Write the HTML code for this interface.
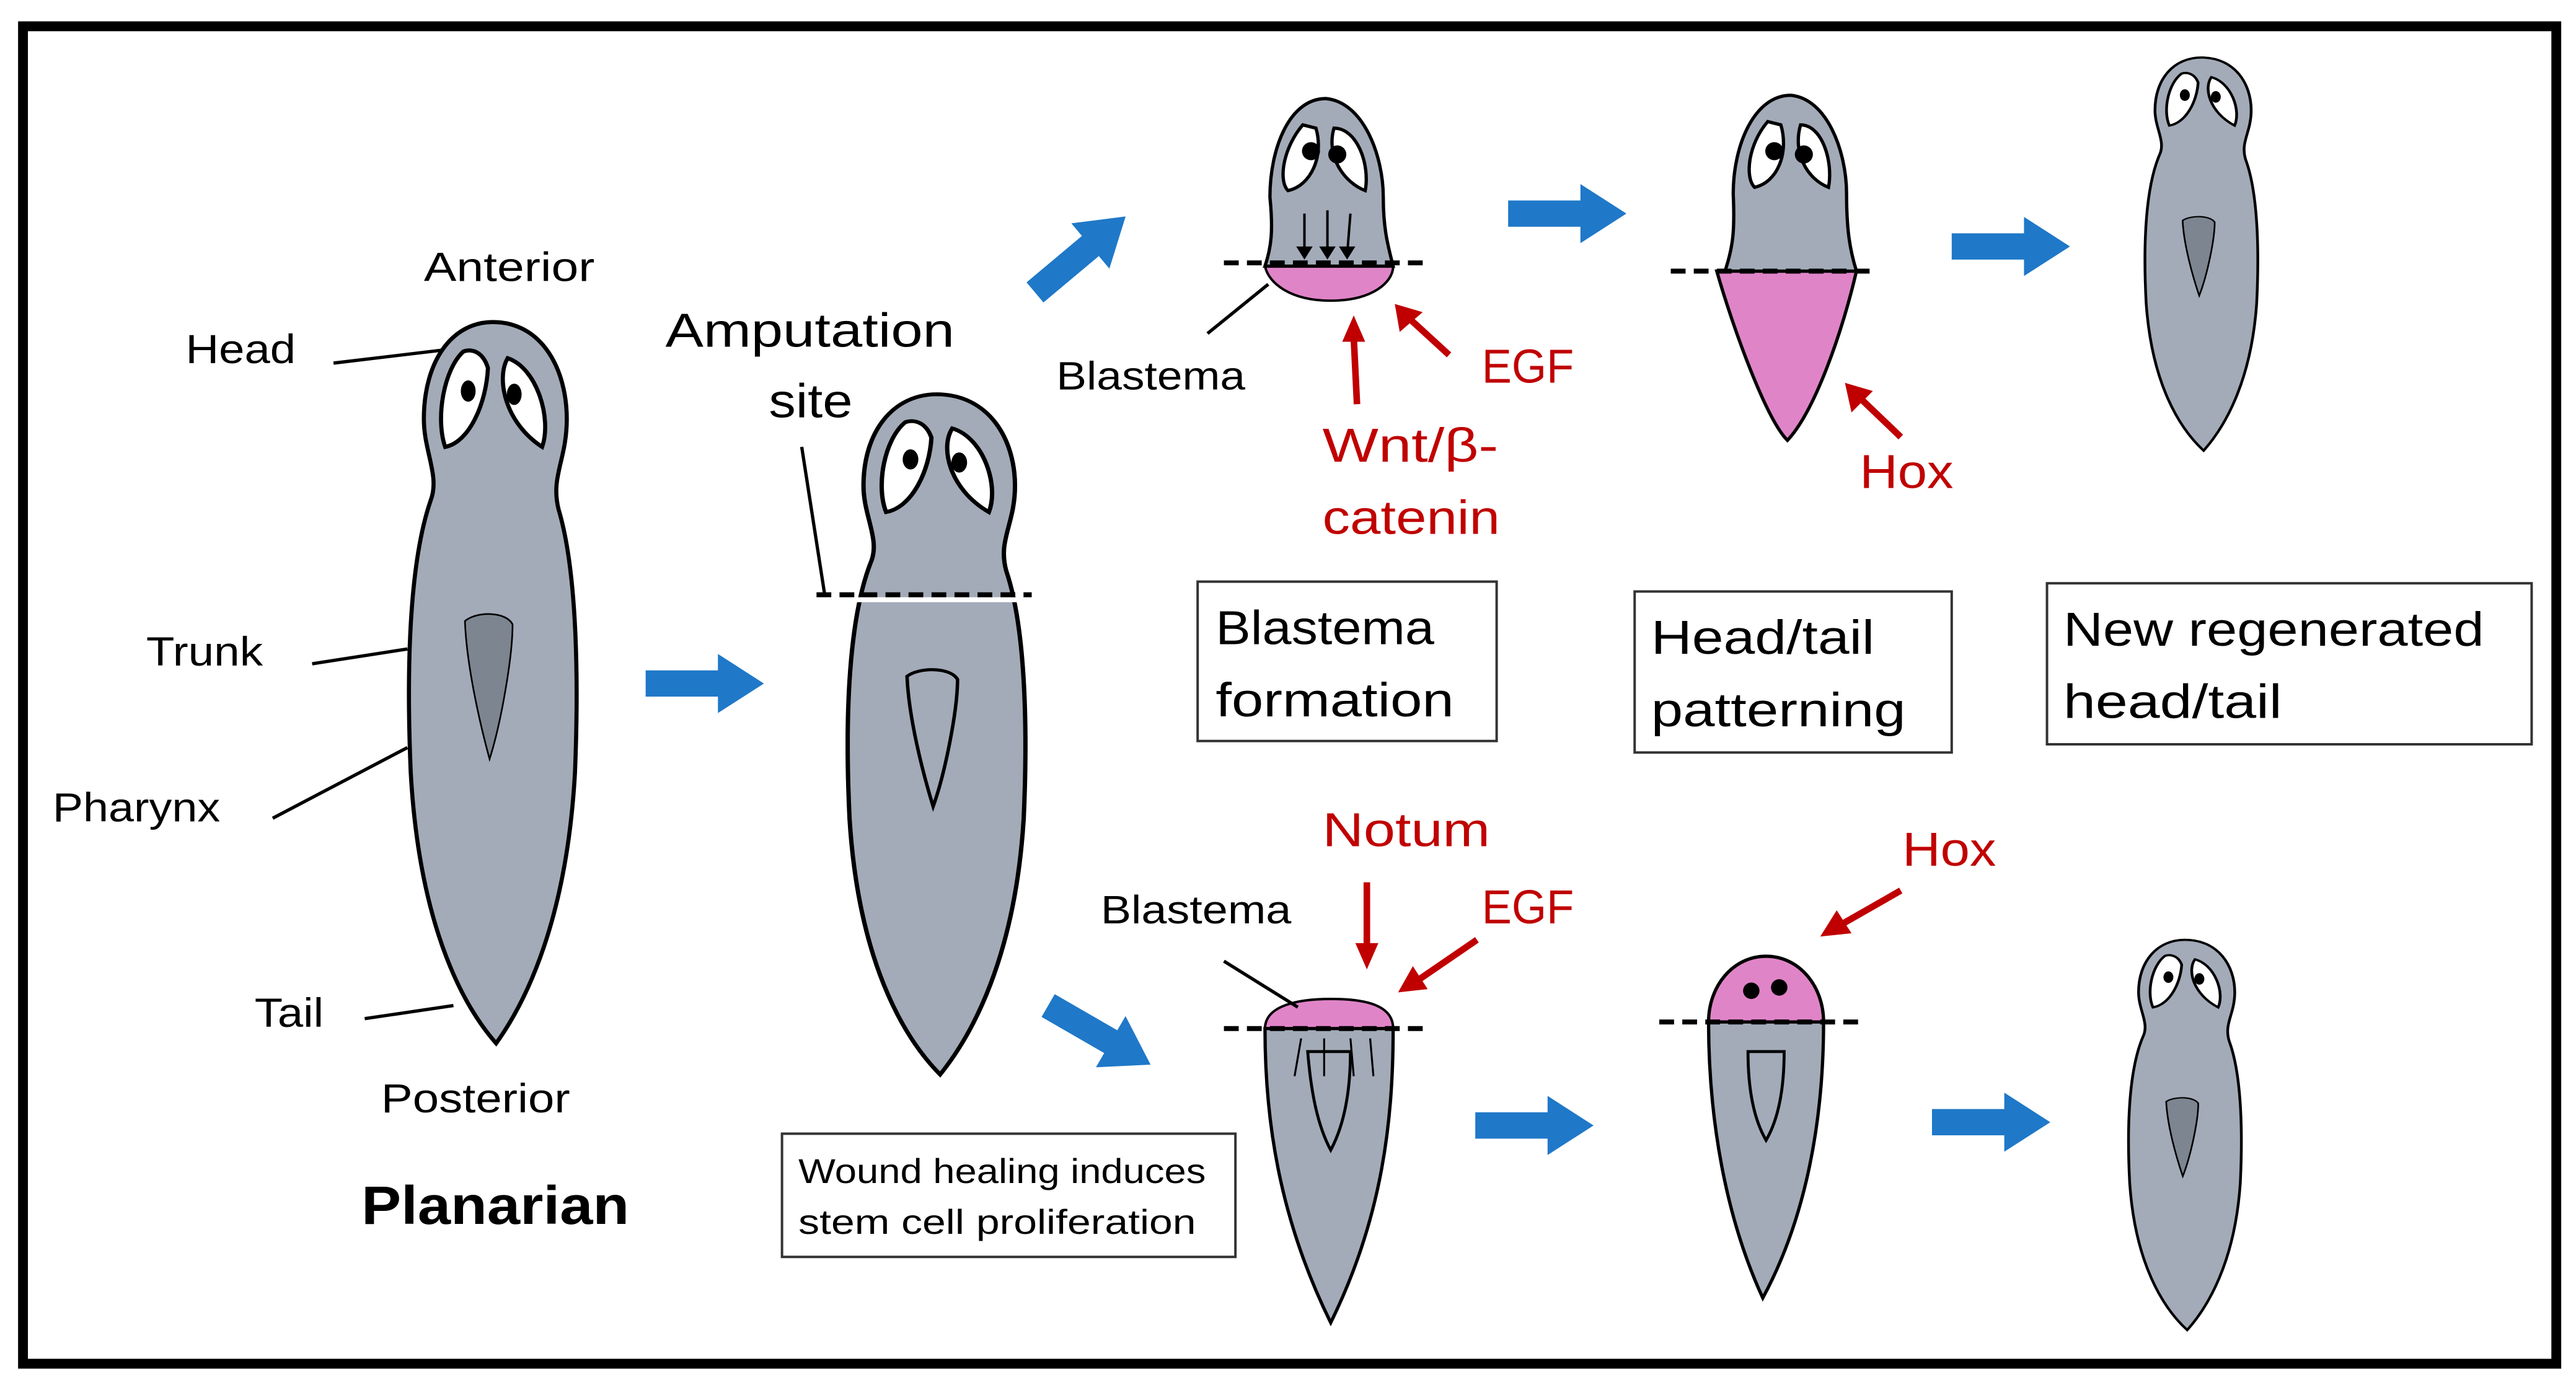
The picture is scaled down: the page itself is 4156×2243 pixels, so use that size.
<!DOCTYPE html>
<html><head><meta charset="utf-8"><style>
html,body{margin:0;padding:0;background:#fff}
svg{display:block}
text{font-family:"Liberation Sans",sans-serif}
</style></head><body>
<svg width="4156" height="2243" viewBox="0 0 1568 846" preserveAspectRatio="none" xmlns="http://www.w3.org/2000/svg">
<defs>
<g id="worm">
<path d="M300,196 C330,196 345,225 345,255 C345,280 335,290 340,310 C352,350 352,420 350,470 C345,560 320,610 302,635 C280,610 255,560 250,470 C247,400 250,340 262,305 C268,290 258,275 258,255 C258,220 275,196 300,196Z" fill="#a3abb9" stroke="#000" stroke-width="2.5"/>
<path d="M282,214 C270,225 265,255 271,272 C286,269 296,245 297,224 C294,214 287,212 282,214Z" fill="#fff" stroke="#000" stroke-width="2.5"/>
<path d="M309,218 C302,230 307,257 330,272 C336,255 327,224 309,218Z" fill="#fff" stroke="#000" stroke-width="2.5"/>
<ellipse cx="285" cy="238" rx="4.5" ry="6.5"/><ellipse cx="313" cy="240" rx="4.5" ry="6.5"/>
</g>
<path id="ph" d="M283,378 C290,372 308,372 312,380 C312,400 305,440 298,462 C292,440 284,405 283,378Z"/>
<path id="barrow" d="M0,-8 L44,-8 L44,-18 L72,0 L44,18 L44,8 L0,8Z" fill="#1f78c8"/>
</defs>
<rect x="14" y="16" width="1542" height="814" fill="#fff" stroke="#000" stroke-width="6"/>

<!-- worm 1 -->
<use href="#worm"/>
<use href="#ph" fill="#7d8590" stroke="#000" stroke-width="1"/>
<g font-size="25" fill="#000" lengthAdjust="spacingAndGlyphs">
<text x="258" y="171" textLength="104" lengthAdjust="spacingAndGlyphs">Anterior</text>
<text x="113" y="221" textLength="67" lengthAdjust="spacingAndGlyphs">Head</text>
<text x="89" y="405" textLength="71" lengthAdjust="spacingAndGlyphs">Trunk</text>
<text x="32" y="500" textLength="102" lengthAdjust="spacingAndGlyphs">Pharynx</text>
<text x="155" y="625" textLength="42" lengthAdjust="spacingAndGlyphs">Tail</text>
<text x="232" y="677" textLength="115" lengthAdjust="spacingAndGlyphs">Posterior</text>
</g>
<text x="220" y="745" font-size="33" font-weight="bold" textLength="163" lengthAdjust="spacingAndGlyphs">Planarian</text>
<g stroke="#000" stroke-width="2" fill="none">
<line x1="203" y1="221" x2="270" y2="213"/>
<line x1="190" y1="404" x2="248" y2="395"/>
<line x1="166" y1="498" x2="248" y2="455"/>
<line x1="222" y1="620" x2="276" y2="612"/>
</g>
<use href="#barrow" transform="translate(393,416)"/>

<!-- worm 2 -->
<g transform="translate(515,240) scale(1.06,0.943) translate(-248,-196)">
<use href="#worm"/>
<use href="#ph" fill="none" stroke="#000" stroke-width="2"/>
</g>
<line x1="510" y1="365" x2="622" y2="365" stroke="#fff" stroke-width="3"/>
<line x1="497" y1="362" x2="628" y2="362" stroke="#000" stroke-width="3" stroke-dasharray="9,5"/>
<text x="405" y="211" font-size="29" textLength="176" lengthAdjust="spacingAndGlyphs">Amputation</text>
<text x="468" y="254" font-size="29" textLength="51" lengthAdjust="spacingAndGlyphs">site</text>
<line x1="488" y1="272" x2="502" y2="362" stroke="#000" stroke-width="2"/>
<rect x="476" y="690" width="276" height="75" fill="#fff" stroke="#333" stroke-width="1.5"/>
<text x="486" y="720" font-size="21" textLength="248" lengthAdjust="spacingAndGlyphs">Wound healing induces</text>
<text x="486" y="751" font-size="21" textLength="242" lengthAdjust="spacingAndGlyphs">stem cell  proliferation</text>

<use href="#barrow" transform="translate(630,178) rotate(-40)"/>
<use href="#barrow" transform="translate(638,612) rotate(30)"/>

<!-- worm 3 top -->
<path d="M770,162 C772,172 785,183 810,183 C835,183 848,172 848,162Z" fill="#e084c8" stroke="#000" stroke-width="1.5"/>
<path d="M807,60 C830,62 842,95 842,120 C842,140 845,150 848,162 L770,162 C774,150 775,140 773,120 C773,90 785,60 807,60Z" fill="#a3abb9" stroke="#000" stroke-width="2"/>
<path d="M793,76 C781,90 778,110 784,116 C798,113 806,95 801,78Z" fill="#fff" stroke="#000" stroke-width="2"/>
<path d="M812,78 C807,95 818,111 831,116 C834,100 826,78 812,78Z" fill="#fff" stroke="#000" stroke-width="2"/>
<circle cx="798" cy="92" r="5.5"/><circle cx="814" cy="94" r="5.5"/>
<g stroke="#000" stroke-width="1.5"><line x1="794" y1="130" x2="794" y2="155"/><line x1="808" y1="128" x2="808" y2="155"/><line x1="822" y1="130" x2="820" y2="155"/></g>
<g fill="#000"><path d="M789,150 L799,150 L794,158Z"/><path d="M803,150 L813,150 L808,158Z"/><path d="M815,150 L825,150 L820,158Z"/></g>
<line x1="745" y1="160" x2="868" y2="160" stroke="#000" stroke-width="3" stroke-dasharray="9,5"/>
<line x1="735" y1="203" x2="772" y2="173" stroke="#000" stroke-width="2"/>
<text x="643" y="237" font-size="24" textLength="115" lengthAdjust="spacingAndGlyphs">Blastema</text>
<g fill="#c00000" font-size="29">
<text x="902" y="233" textLength="56" lengthAdjust="spacingAndGlyphs">EGF</text>
<text x="805" y="281" textLength="107" lengthAdjust="spacingAndGlyphs">Wnt/β-</text>
<text x="805" y="325" textLength="108" lengthAdjust="spacingAndGlyphs">catenin</text>
<text x="1132" y="297" textLength="57" lengthAdjust="spacingAndGlyphs">Hox</text>
<text x="805" y="515" textLength="102" lengthAdjust="spacingAndGlyphs">Notum</text>
<text x="902" y="562" textLength="56" lengthAdjust="spacingAndGlyphs">EGF</text>
<text x="1158" y="527" textLength="57" lengthAdjust="spacingAndGlyphs">Hox</text>
</g>
<g stroke="#c00000" stroke-width="4" fill="#c00000">
<line x1="826" y1="246" x2="824" y2="205"/><path d="M817,208 L824,192 L831,208Z" stroke="none"/>
<line x1="882" y1="216" x2="858" y2="194"/><path d="M852,202 L849,185 L866,190Z" stroke="none"/>
<line x1="1157" y1="266" x2="1133" y2="243"/><path d="M1127,251 L1123,233 L1140,238Z" stroke="none"/>
<line x1="832" y1="537" x2="832" y2="578"/><path d="M825,574 L832,590 L839,574Z" stroke="none"/>
<line x1="899" y1="572" x2="864" y2="596"/><path d="M860,588 L851,604 L869,602Z" stroke="none"/>
<line x1="1157" y1="542" x2="1122" y2="562"/><path d="M1118,554 L1108,570 L1127,568Z" stroke="none"/>
</g>

<use href="#barrow" transform="translate(918,130)"/>
<!-- worm 4 -->
<path d="M1045,165 L1130,165 C1122,200 1105,250 1088,268 C1075,255 1055,200 1045,165Z" fill="#e084c8" stroke="#000" stroke-width="2"/>
<path d="M1090,58 C1112,60 1124,92 1124,118 C1124,140 1126,152 1130,165 L1050,165 C1055,150 1056,140 1055,118 C1055,88 1068,58 1090,58Z" fill="#a3abb9" stroke="#000" stroke-width="2"/>
<path d="M1076,74 C1064,88 1062,108 1068,114 C1082,111 1089,93 1084,76Z" fill="#fff" stroke="#000" stroke-width="2"/>
<path d="M1096,76 C1091,93 1100,109 1113,114 C1116,98 1109,76 1096,76Z" fill="#fff" stroke="#000" stroke-width="2"/>
<circle cx="1080" cy="92" r="5.5"/><circle cx="1098" cy="94" r="5.5"/>
<line x1="1017" y1="165" x2="1138" y2="165" stroke="#000" stroke-width="3" stroke-dasharray="9,5"/>

<use href="#barrow" transform="translate(1188,150)"/>
<!-- worm 5 -->
<g transform="translate(1305,35) scale(0.673,0.545) translate(-248,-196)">
<use href="#worm"/><use href="#ph" fill="#7d8590" stroke="#000" stroke-width="1.5"/>
</g>

<rect x="729" y="354" width="182" height="97" fill="#fff" stroke="#333" stroke-width="1.5"/>
<text x="740" y="392" font-size="29" textLength="133" lengthAdjust="spacingAndGlyphs">Blastema</text>
<text x="740" y="436" font-size="29" textLength="145" lengthAdjust="spacingAndGlyphs">formation</text>
<rect x="995" y="360" width="193" height="98" fill="#fff" stroke="#333" stroke-width="1.5"/>
<text x="1005" y="398" font-size="29" textLength="136" lengthAdjust="spacingAndGlyphs">Head/tail</text>
<text x="1005" y="442" font-size="29" textLength="155" lengthAdjust="spacingAndGlyphs">patterning</text>
<rect x="1246" y="355" width="295" height="98" fill="#fff" stroke="#333" stroke-width="1.5"/>
<text x="1256" y="393" font-size="29" textLength="256" lengthAdjust="spacingAndGlyphs">New regenerated</text>
<text x="1256" y="437" font-size="29" textLength="133" lengthAdjust="spacingAndGlyphs">head/tail</text>

<!-- worm 6 -->
<path d="M770,626 C770,612 790,608 810,608 C832,608 848,612 848,626Z" fill="#e084c8" stroke="#000" stroke-width="1.5"/>
<path d="M770,626 L848,626 C848,680 842,740 810,805 C778,740 770,680 770,626Z" fill="#a3abb9" stroke="#000" stroke-width="2"/>
<path d="M796,640 L822,640 C822,665 818,685 810,700 C802,685 798,665 796,640Z" fill="none" stroke="#000" stroke-width="1.8"/>
<g stroke="#000" stroke-width="1.2"><line x1="788" y1="655" x2="792" y2="632"/><line x1="806" y1="655" x2="806" y2="632"/><line x1="824" y1="655" x2="822" y2="632"/><line x1="836" y1="655" x2="834" y2="632"/></g>
<line x1="745" y1="626" x2="868" y2="626" stroke="#000" stroke-width="3" stroke-dasharray="9,5"/>
<line x1="745" y1="585" x2="790" y2="613" stroke="#000" stroke-width="2"/>
<text x="670" y="562" font-size="24" textLength="116" lengthAdjust="spacingAndGlyphs">Blastema</text>

<use href="#barrow" transform="translate(898,685)"/>
<!-- worm 7 -->
<path d="M1040,622 C1040,600 1055,582 1075,582 C1095,582 1110,600 1110,622Z" fill="#e084c8" stroke="#000" stroke-width="2"/>
<circle cx="1066" cy="603" r="5"/><circle cx="1083" cy="601" r="5"/>
<path d="M1040,622 L1110,622 C1110,680 1100,740 1073,790 C1050,740 1040,680 1040,622Z" fill="#a3abb9" stroke="#000" stroke-width="2"/>
<path d="M1064,640 L1086,640 C1086,665 1082,682 1075,694 C1068,682 1064,665 1064,640Z" fill="none" stroke="#000" stroke-width="1.8"/>
<line x1="1010" y1="622" x2="1132" y2="622" stroke="#000" stroke-width="3" stroke-dasharray="9,5"/>

<use href="#barrow" transform="translate(1176,683)"/>
<!-- worm 8 -->
<g transform="translate(1295,572) scale(0.673,0.541) translate(-248,-196)">
<use href="#worm"/><use href="#ph" fill="#7d8590" stroke="#000" stroke-width="1.5"/>
</g>
</svg>
</body></html>
